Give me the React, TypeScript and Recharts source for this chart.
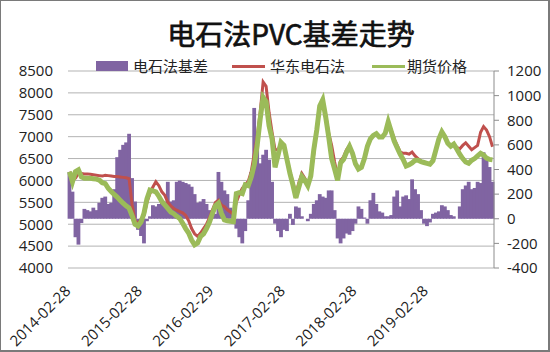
import React from "react";
import { ComposedChart, Bar, Line, XAxis, YAxis, CartesianGrid } from "recharts";

const DATES: string[] = [
  "2014-02-28","2014-03-15","2014-03-31","2014-04-15","2014-04-30","2014-05-15","2014-05-31","2014-06-15","2014-06-30","2014-07-15","2014-07-31","2014-08-15","2014-08-31","2014-09-15","2014-09-30","2014-10-15","2014-10-31","2014-11-15","2014-11-30","2014-12-15","2014-12-31",
  "2015-01-15","2015-01-31","2015-02-15","2015-02-28","2015-03-15","2015-03-31","2015-04-15","2015-04-30","2015-05-15","2015-05-31","2015-06-15","2015-06-30","2015-07-15","2015-07-31","2015-08-15","2015-08-31","2015-09-15","2015-09-30","2015-10-15","2015-10-31","2015-11-15","2015-11-30","2015-12-15","2015-12-31",
  "2016-01-15","2016-01-31","2016-02-15","2016-02-29","2016-03-15","2016-03-31","2016-04-15","2016-04-30","2016-05-15","2016-05-31","2016-06-15","2016-06-30","2016-07-15","2016-07-31","2016-08-15","2016-08-31","2016-09-15","2016-09-30","2016-10-15","2016-10-31","2016-11-15","2016-11-30","2016-12-15","2016-12-31",
  "2017-01-15","2017-01-31","2017-02-15","2017-02-28","2017-03-15","2017-03-31","2017-04-15","2017-04-30","2017-05-15","2017-05-31","2017-06-15","2017-06-30","2017-07-15","2017-07-31","2017-08-15","2017-08-31","2017-09-15","2017-09-30","2017-10-15","2017-10-31","2017-11-15","2017-11-30","2017-12-15","2017-12-31",
  "2018-01-15","2018-01-31","2018-02-15","2018-02-28","2018-03-15","2018-03-31","2018-04-15","2018-04-30","2018-05-15","2018-05-31","2018-06-15","2018-06-30","2018-07-15","2018-07-31","2018-08-15","2018-08-31","2018-09-15","2018-09-30","2018-10-15","2018-10-31","2018-11-15","2018-11-30","2018-12-15","2018-12-31",
  "2019-01-15","2019-01-31","2019-02-15","2019-02-28","2019-03-15","2019-03-31","2019-04-15","2019-04-30","2019-05-15","2019-05-31","2019-06-15","2019-06-30","2019-07-15","2019-07-31","2019-08-15","2019-08-31","2019-09-15","2019-09-30","2019-10-15","2019-10-31","2019-11-15","2019-11-30","2019-12-15","2019-12-31",
  "2020-01-15","2020-01-31",
];

// 华东电石法 (spot)
const SPOT: number[] = [
  6200,6010,6050,6160,6160,6150,6150,6140,6130,6120,
  6110,6100,6120,6110,6100,6090,6090,6080,6070,6060,
  6040,5450,5080,5020,5100,5200,5500,5700,5850,5970,
  5880,5740,5660,5500,5420,5360,5320,5290,5260,5200,
  5080,4900,4780,4720,4800,4900,5000,5150,5330,5500,
  5550,5440,5400,5330,5280,5220,5500,5680,5820,5900,
  5980,6200,6600,7000,7550,8250,8150,7550,7100,6700,
  6700,6850,6820,6500,6200,5950,5700,5950,6160,6050,
  5920,6100,6600,7200,7700,7800,7500,7080,6800,6420,
  6100,6450,6540,6700,6800,6620,6380,6260,6300,6500,
  6780,6950,7030,7070,6990,6990,7080,7340,7150,6950,
  6800,6650,6620,6620,6600,6650,6560,6500,6440,6410,
  6390,6370,6450,6700,6950,7110,7000,6850,6780,6830,
  6760,6720,6800,6860,6780,6700,6750,6800,7100,7230,
  7150,7000,6770,
];

// 期货价格 (futures)
const FUTURES: number[] = [
  6200,5970,6200,6240,6080,6050,6050,6050,6040,6030,
  6010,5950,5930,5820,5750,5680,5620,5550,5480,5420,
  5370,5200,5000,4960,5050,5250,5580,5780,5760,5740,
  5640,5520,5440,5360,5280,5240,5180,5130,5020,4900,
  4800,4640,4530,4570,4720,4780,4900,5050,5250,5420,
  5480,5250,5100,5080,5070,5060,5700,5720,5700,5900,
  5880,6080,6350,6800,7400,7900,7800,7250,6950,6300,
  6580,6870,6800,6480,6160,5900,5600,5850,6090,6000,
  5880,6100,6700,7150,7700,7840,7450,7000,6500,6260,
  6000,6400,6480,6650,6780,6620,6380,6260,6300,6500,
  6780,6950,7030,7070,6990,6990,7080,7340,7120,6900,
  6750,6600,6480,6330,6360,6400,6460,6460,6430,6410,
  6390,6370,6450,6700,6950,7110,7000,6850,6780,6830,
  6720,6600,6500,6420,6390,6460,6500,6560,6620,6580,
  6510,6480,6470,
];

// 电石法基差 (basis)
const BASIS: number[] = [
  380,220,-150,-210,-35,80,70,60,90,70,
  130,170,180,120,130,240,500,560,600,620,
  690,330,140,-90,-140,-200,-20,20,110,100,
  120,150,140,300,140,150,300,310,300,290,
  280,260,200,130,140,160,120,70,60,40,
  380,300,230,200,90,70,-80,-150,-200,-100,
  150,380,900,600,450,520,560,480,300,-40,
  -100,-150,-90,-100,40,-50,100,90,20,0,
  -20,40,120,150,200,180,170,230,230,70,
  -160,-200,-160,-120,-130,-100,-40,100,80,10,
  -40,150,210,120,60,50,20,20,30,180,
  230,100,180,190,160,320,240,200,70,-40,
  -60,-30,40,50,60,110,100,70,30,20,
  0,100,240,270,300,240,250,300,290,540,
  500,420,300,
];

const TICK_LABELS: string[] = ["2014-02-28","2015-02-28","2016-02-29","2017-02-28","2018-02-28","2019-02-28"];
const LEFT_TICKS: number[] = [4000,4500,5000,5500,6000,6500,7000,7500,8000,8500];
const RIGHT_TICKS: number[] = [-400,-200,0,200,400,600,800,1000,1200];

const SERIES_NAMES = { basis: "电石法基差", spot: "华东电石法", futures: "期货价格" };
const TITLE = "电石法PVC基差走势";

const data = DATES.map((d, i) => ({ date: d, spot: SPOT[i], futures: FUTURES[i], basis: BASIS[i] }));

const PURPLE = "#8064A2";
const RED = "#C0504D";
const GREEN = "#9BBB59";
const NUM_FONT = "'Open Sans', 'Noto Sans', sans-serif";
const CJK_FONT = "'Noto Sans CJK SC', 'Noto Sans', sans-serif";

const XTick = (props: any) => {
  const { x, y, payload } = props;
  if (!TICK_LABELS.includes(payload.value)) return null;
  const X = x + 2;
  const Y = y + 16;
  return (
    <text x={X} y={Y} transform={`rotate(-45 ${X} ${Y})`} textAnchor="end" fontSize={15} fontFamily={NUM_FONT} fill="#222">
      {payload.value}
    </text>
  );
};

const BarShape = (props: any) => {
  const { x, y, width, height } = props;
  if (x == null || y == null || !height) return null;
  const top = Math.min(y, y + height);
  const h = Math.abs(height);
  return <rect x={x - 0.4} y={top} width={width + 0.8} height={h} fill={PURPLE} />;
};

export default function App() {
  return (
    <div style={{ position: "absolute", left: 0, top: 0, width: 550, height: 352, background: "#fff", overflow: "hidden" }}>
      <ComposedChart width={550} height={352} data={data} margin={{ top: 71, right: 0, bottom: 0, left: 0 }} barCategoryGap="0%" barGap={0}>
        <CartesianGrid yAxisId="left" vertical={false} stroke="#B3B3B3" />
        <XAxis dataKey="date" interval={0} tick={<XTick />} tickLine={false} axisLine={false} height={84} />
        <YAxis yAxisId="left" orientation="left" width={68} domain={[4000, 8500]} ticks={LEFT_TICKS} interval={0}
          axisLine={false} tickLine={false} tickSize={6} tickMargin={9}
          tick={{ fontSize: 15, fontFamily: NUM_FONT, fill: "#222" }} />
        <YAxis yAxisId="right" orientation="right" width={56} domain={[-400, 1200]} ticks={RIGHT_TICKS} interval={0}
          axisLine={{ stroke: "#8C8C8C" }} tickLine={{ stroke: "#8C8C8C" }} tickSize={5} tickMargin={8}
          tick={{ fontSize: 15, fontFamily: NUM_FONT, fill: "#222", textAnchor: "start" }} />
        <Bar yAxisId="right" dataKey="basis" name={SERIES_NAMES.basis} fill={PURPLE} shape={<BarShape />} isAnimationActive={false} />
        <Line yAxisId="left" dataKey="spot" name={SERIES_NAMES.spot} stroke={RED} strokeWidth={3} dot={false} type="linear" isAnimationActive={false} />
        <Line yAxisId="left" dataKey="futures" name={SERIES_NAMES.futures} stroke={GREEN} strokeWidth={5} dot={false} type="linear" isAnimationActive={false} />
      </ComposedChart>

      <div style={{ position: "absolute", left: 0, top: 14, width: 582, textAlign: "center", fontFamily: CJK_FONT, fontSize: 28, color: "#111", lineHeight: "38px", WebkitTextStroke: "0.7px #111" }}>
        {TITLE}
      </div>

      <div style={{ position: "absolute", left: 96, top: 61, width: 32, height: 10, background: PURPLE }} />
      <div style={{ position: "absolute", left: 133, top: 55, fontFamily: CJK_FONT, fontSize: 15, color: "#222", lineHeight: "22px", whiteSpace: "nowrap" }}>{SERIES_NAMES.basis}</div>
      <div style={{ position: "absolute", left: 232, top: 65, width: 33, height: 3, background: RED }} />
      <div style={{ position: "absolute", left: 270, top: 55, fontFamily: CJK_FONT, fontSize: 15, color: "#222", lineHeight: "22px", whiteSpace: "nowrap" }}>{SERIES_NAMES.spot}</div>
      <div style={{ position: "absolute", left: 372, top: 65, width: 33, height: 3, background: GREEN }} />
      <div style={{ position: "absolute", left: 407, top: 55, fontFamily: CJK_FONT, fontSize: 15, color: "#222", lineHeight: "22px", whiteSpace: "nowrap" }}>{SERIES_NAMES.futures}</div>

      <div style={{ position: "absolute", left: 0, top: 0, width: 550, height: 352, boxSizing: "border-box", border: "1px solid #7A7A7A", borderRightWidth: 2, borderBottomWidth: 2, pointerEvents: "none" }} />
    </div>
  );
}
